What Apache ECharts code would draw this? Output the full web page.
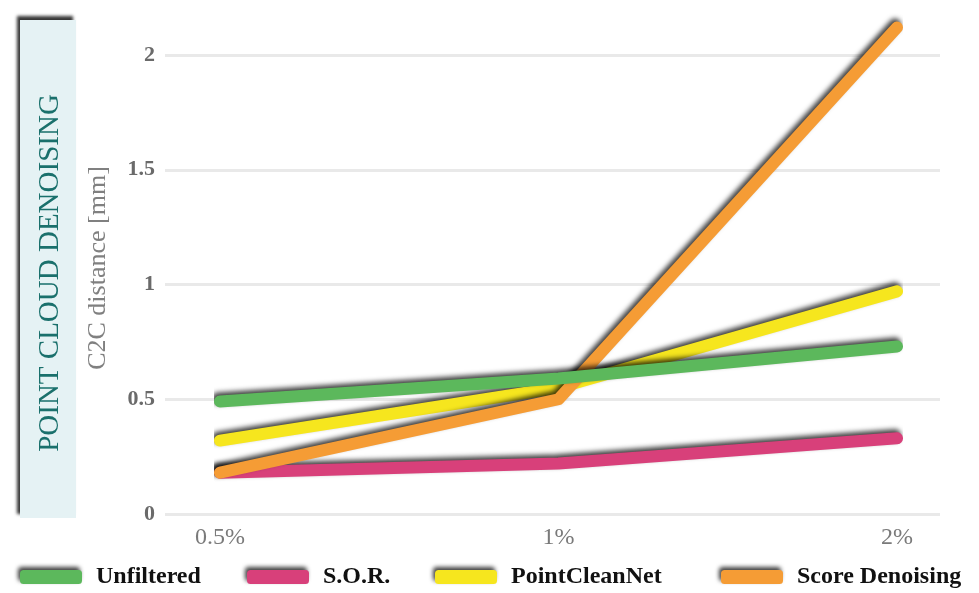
<!DOCTYPE html>
<html>
<head>
<meta charset="utf-8">
<script src="https://cdn.jsdelivr.net/npm/echarts@6/dist/echarts.min.js"></script>
<style>
html,body{margin:0;padding:0;background:#fff;}
#chart{width:979px;height:593px;}
</style>
</head>
<body>
<div id="chart"></div>
<script>
const categories = ['0.5%', '1%', '2%'];
const unfiltered = [0.49, 0.59, 0.73];
const sor = [0.18, 0.22, 0.33];
const pointCleanNet = [0.32, 0.55, 0.97];
const scoreDenoising = [0.18, 0.50, 2.12];
const yTicks = [0, 0.5, 1, 1.5, 2];
const seriesNames = ['Unfiltered', 'S.O.R.', 'PointCleanNet', 'Score Denoising'];
const colors = ['#5cb85c', '#d8407a', '#f6e61e', '#f59c35'];

const serif = "'Liberation Serif', 'DejaVu Serif', serif";
const shadow = {shadowColor: 'rgba(0,0,0,0.75)', shadowBlur: 5, shadowOffsetX: -2, shadowOffsetY: -3};

function lineSeries(name, data, color, z) {
  return {
    name: name, type: 'line', xAxisIndex: 1, yAxisIndex: 1,
    data: data, symbol: 'none', clip: false, z: z,
    color: color,
    lineStyle: Object.assign({color: color, width: 12, cap: 'round', join: 'round'}, shadow),
    emphasis: {disabled: true}
  };
}

const legendLefts = [20, 247, 435, 721];
const legends = seriesNames.map((n, i) => ({
  data: [n], left: legendLefts[i], top: 565, padding: 0,
  icon: 'roundRect', itemWidth: 62, itemHeight: 14,
  itemStyle: Object.assign({}, shadow, {shadowBlur: 4}),
  textStyle: {fontFamily: serif, fontSize: 24, fontWeight: 'bold', color: '#111', padding: [0, 0, 0, 9]},
  selectedMode: false
}));

const chart = echarts.init(document.getElementById('chart'));
chart.setOption({
  animation: false,
  backgroundColor: '#fff',
  graphic: [
    {type: 'rect', x: 20, y: 20, shape: {x: 0, y: 0, width: 56, height: 498},
     style: {fill: '#e5f2f4', shadowColor: 'rgba(20,20,20,0.85)', shadowBlur: 3, shadowOffsetX: -3, shadowOffsetY: -4}},
    {type: 'text', x: 50, y: 273, rotation: Math.PI / 2,
     style: {text: 'POINT CLOUD DENOISING', fill: '#1a706c', font: "29px 'Liberation Serif', serif", align: 'center', verticalAlign: 'middle'}},
    {type: 'text', x: 98, y: 268, rotation: Math.PI / 2,
     style: {text: 'C2C distance [mm]', fill: '#808080', font: "26px 'Liberation Serif', serif", align: 'center', verticalAlign: 'middle'}}
  ],
  legend: legends,
  grid: [
    {left: 165, right: 39, top: 55, bottom: 79},
    {left: 220, right: 82, top: 55, bottom: 79}
  ],
  xAxis: [
    {type: 'value', gridIndex: 0, show: false, min: 0, max: 1},
    {type: 'category', gridIndex: 1, data: categories, boundaryGap: false,
     axisLine: {show: false}, axisTick: {show: false}, splitLine: {show: false},
     axisLabel: {fontFamily: serif, fontSize: 24, color: '#7a7a7a', margin: 12}}
  ],
  yAxis: [
    {type: 'value', gridIndex: 0, min: 0, max: 2, interval: 0.5,
     axisLine: {show: false}, axisTick: {show: false},
     axisLabel: {fontFamily: serif, fontSize: 22, fontWeight: 'bold', color: '#6a6a6a', margin: 10},
     splitLine: {lineStyle: {color: '#e9e9e9', width: 3}}},
    {type: 'value', gridIndex: 1, min: 0, max: 2, interval: 0.5, show: false, splitLine: {show: false}}
  ],
  series: [
    lineSeries(seriesNames[1], sor, colors[1], 2),
    lineSeries(seriesNames[2], pointCleanNet, colors[2], 3),
    lineSeries(seriesNames[3], scoreDenoising, colors[3], 4),
    lineSeries(seriesNames[0], unfiltered, colors[0], 5)
  ]
});
</script>
</body>
</html>
